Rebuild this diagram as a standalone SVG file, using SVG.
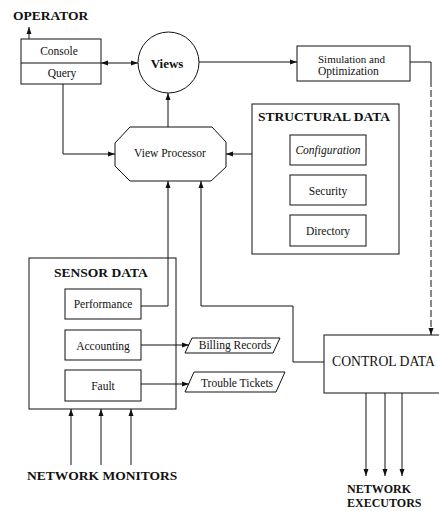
<svg xmlns="http://www.w3.org/2000/svg" width="439" height="511" viewBox="0 0 439 511">
<defs>
<marker id="ah" markerUnits="userSpaceOnUse" markerWidth="8" markerHeight="6" refX="7" refY="3" orient="auto-start-reverse">
<path d="M0,0.5 L7,3 L0,5.5 Z" fill="#111"/>
</marker>
<style>
.box{fill:#fff;stroke:#111;stroke-width:1}
.ln{fill:none;stroke:#111;stroke-width:1}
.t{font-family:"Liberation Serif","Times New Roman",serif;fill:#111;font-size:11.5px;text-anchor:middle}
.h{font-family:"Liberation Serif","Times New Roman",serif;fill:#111;font-size:13.5px;font-weight:bold}
.it{font-style:italic}
</style>
</defs>
<rect width="439" height="511" fill="#fff"/>

<g id="operator"><text class="h" x="13" y="20">OPERATOR</text></g>

<g id="console-query">
<rect class="box" x="21" y="39" width="80" height="45"/>
<line class="ln" x1="21" y1="63" x2="101" y2="63"/>
<text class="t" x="59" y="55">Console</text>
<text class="t" x="62" y="77">Query</text>
</g>

<g id="views">
<circle class="box" cx="168.5" cy="62.5" r="30.5"/>
<text class="t" x="167" y="68" style="font-size:13px;font-weight:bold">Views</text>
</g>

<g id="simulation">
<rect class="box" x="297" y="46" width="113" height="35"/>
<text class="t" x="318" y="63" style="text-anchor:start;font-size:11px">Simulation and</text>
<text class="t" x="318" y="75" style="text-anchor:start">Optimization</text>
</g>

<g id="view-processor">
<polygon class="box" points="130,127 212,127 226,142 226,167 211,181 130,181 115,166 115,143"/>
<text class="t" x="170" y="157">View Processor</text>
</g>

<g id="structural-data">
<rect class="box" x="252" y="104" width="147" height="150"/>
<text class="h" x="258" y="121">STRUCTURAL DATA</text>
<rect class="box" x="290" y="135" width="76" height="30"/>
<text class="t it" x="328" y="154">Configuration</text>
<rect class="box" x="290" y="175" width="76" height="30"/>
<text class="t" x="328" y="195">Security</text>
<rect class="box" x="290" y="215" width="76" height="31"/>
<text class="t" x="328" y="235">Directory</text>
</g>

<g id="sensor-data">
<rect class="box" x="29" y="258" width="147" height="151"/>
<text class="h" x="54" y="277">SENSOR DATA</text>
<rect class="box" x="65" y="289" width="76" height="30"/>
<text class="t" x="103" y="308">Performance</text>
<rect class="box" x="65" y="330" width="76" height="30"/>
<text class="t" x="103" y="350">Accounting</text>
<rect class="box" x="65" y="370" width="76" height="31"/>
<text class="t" x="103" y="390">Fault</text>
</g>

<g id="billing-records">
<polygon class="box" points="185,353 192,338 280,338 273,353"/>
<text class="t" x="235" y="349">Billing Records</text>
</g>

<g id="trouble-tickets">
<polygon class="box" points="185,392 194,372 285,372 276,392"/>
<text class="t" x="237" y="387">Trouble Tickets</text>
</g>

<g id="control-data">
<rect class="box" x="324" y="335" width="130" height="58"/>
<text class="t" x="332" y="366" style="font-size:13.7px;text-anchor:start">CONTROL DATA</text>
</g>

<g id="network-monitors"><text class="h" x="27" y="480">NETWORK MONITORS</text></g>

<g id="network-executors">
<text class="h" x="347" y="493" style="font-size:12px">NETWORK</text>
<text class="h" x="347" y="507" style="font-size:12px">EXECUTORS</text>
</g>

<g id="connectors">
<line class="ln" x1="29" y1="39" x2="29" y2="27" marker-end="url(#ah)"/>
<line class="ln" x1="101" y1="63" x2="138" y2="63" marker-start="url(#ah)" marker-end="url(#ah)"/>
<line class="ln" x1="199" y1="62" x2="297" y2="62" marker-end="url(#ah)"/>
<path class="ln" d="M63,84 V154 H115" marker-end="url(#ah)"/>
<line class="ln" x1="168" y1="127" x2="168" y2="93" marker-end="url(#ah)"/>
<line class="ln" x1="252" y1="154" x2="226" y2="154" marker-end="url(#ah)"/>
<path class="ln" d="M141,306 H168 V181" marker-end="url(#ah)"/>
<path class="ln" d="M324,362 H293 V306 H201 V181" marker-end="url(#ah)"/>
<path class="ln" d="M410,62 H431 V80"/>
<line class="ln" x1="431" y1="80" x2="431" y2="335" stroke-dasharray="7,3" marker-end="url(#ah)"/>
<line class="ln" x1="141" y1="345" x2="189" y2="345" marker-end="url(#ah)"/>
<line class="ln" x1="141" y1="384" x2="189" y2="384" marker-end="url(#ah)"/>
<line class="ln" x1="71" y1="465" x2="71" y2="409" marker-end="url(#ah)"/>
<line class="ln" x1="101" y1="465" x2="101" y2="409" marker-end="url(#ah)"/>
<line class="ln" x1="131" y1="465" x2="131" y2="409" marker-end="url(#ah)"/>
<line class="ln" x1="366" y1="393" x2="366" y2="476" marker-end="url(#ah)"/>
<line class="ln" x1="385" y1="393" x2="385" y2="476" marker-end="url(#ah)"/>
<line class="ln" x1="402" y1="393" x2="402" y2="476" marker-end="url(#ah)"/>
</g>
</svg>
